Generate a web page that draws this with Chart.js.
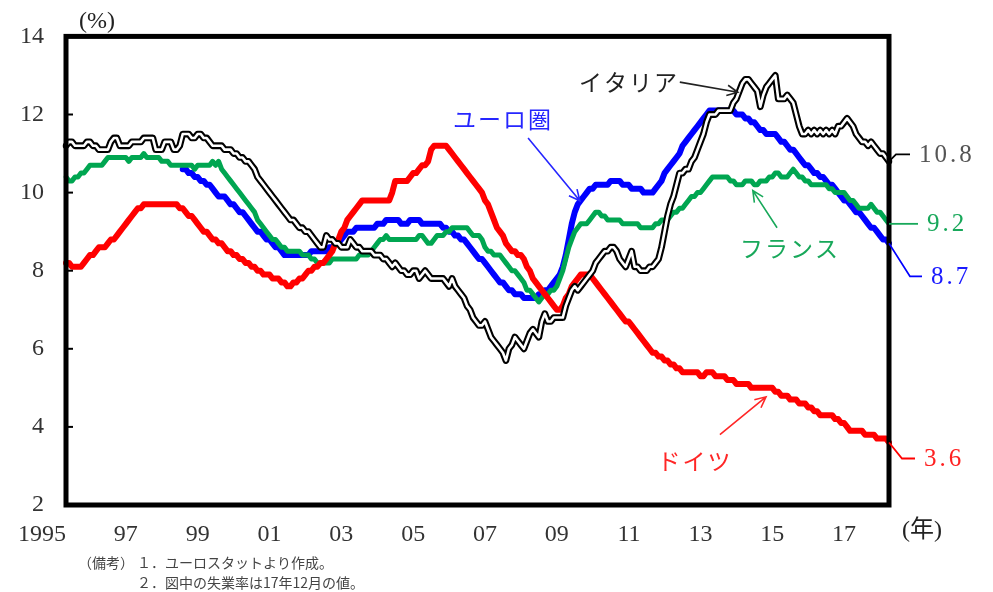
<!DOCTYPE html>
<html lang="ja">
<head>
<meta charset="utf-8">
<title>ユーロ圏の失業率</title>
<script src="https://cdn.jsdelivr.net/npm/chart.js@4.4.1/dist/chart.umd.min.js"></script>
<style>
  html, body { margin: 0; padding: 0; background: #fff; }
  #wrap { width: 993px; height: 592px; }
</style>
</head>
<body>
<div id="wrap"><canvas id="myLineChart" width="993" height="592"></canvas></div>
<script>
// monthly, Jan 1995 - Dec 2017 (%)
const yearTicks = ['1995', '97', '99', '01', '03', '05', '07', '09', '11', '13', '15', '17'];

const germany = [
  8.2, 8.2, 8.1, 8.1, 8.1, 8.1, 8.2, 8.3, 8.4, 8.4, 8.5, 8.6,
  8.6, 8.6, 8.7, 8.8, 8.8, 8.9, 9.0, 9.1, 9.2, 9.3, 9.4, 9.5,
  9.6, 9.6, 9.7, 9.7, 9.7, 9.7, 9.7, 9.7, 9.7, 9.7, 9.7, 9.7,
  9.7, 9.7, 9.6, 9.6, 9.5, 9.4, 9.4, 9.3, 9.2, 9.1, 9.0, 9.0,
  8.9, 8.8, 8.8, 8.7, 8.7, 8.6, 8.5, 8.5, 8.4, 8.4, 8.3, 8.3,
  8.2, 8.2, 8.1, 8.1, 8.0, 8.0, 7.9, 7.9, 7.9, 7.8, 7.8, 7.8,
  7.7, 7.7, 7.6, 7.6, 7.7, 7.7, 7.8, 7.8, 7.9, 8.0, 8.0, 8.1,
  8.1, 8.2, 8.2, 8.3, 8.4, 8.5, 8.7, 8.8, 9.0, 9.1, 9.3, 9.4,
  9.5, 9.6, 9.7, 9.8, 9.8, 9.8, 9.8, 9.8, 9.8, 9.8, 9.8, 9.8,
  9.8, 10.0, 10.3, 10.3, 10.3, 10.3, 10.3, 10.4, 10.5, 10.5, 10.6, 10.7,
  10.7, 10.8, 11.1, 11.2, 11.2, 11.2, 11.2, 11.2, 11.1, 11.0, 10.9, 10.8,
  10.7, 10.6, 10.5, 10.4, 10.3, 10.2, 10.1, 10.0, 9.8, 9.7, 9.5, 9.3,
  9.1, 9.0, 8.9, 8.7, 8.6, 8.5, 8.5, 8.4, 8.4, 8.3, 8.1, 8.0,
  7.8, 7.7, 7.6, 7.5, 7.4, 7.3, 7.2, 7.1, 7.0, 7.0, 7.1, 7.3,
  7.4, 7.6, 7.7, 7.8, 7.9, 7.9, 7.9, 7.9, 7.8, 7.7, 7.6, 7.5,
  7.4, 7.3, 7.2, 7.1, 7.0, 6.9, 6.8, 6.7, 6.7, 6.6, 6.5, 6.4,
  6.3, 6.2, 6.1, 6.0, 5.9, 5.9, 5.8, 5.8, 5.7, 5.7, 5.6, 5.6,
  5.5, 5.5, 5.4, 5.4, 5.4, 5.4, 5.4, 5.4, 5.3, 5.3, 5.4, 5.4,
  5.4, 5.3, 5.3, 5.3, 5.3, 5.2, 5.2, 5.2, 5.1, 5.1, 5.1, 5.1,
  5.1, 5.0, 5.0, 5.0, 5.0, 5.0, 5.0, 5.0, 5.0, 4.9, 4.9, 4.8,
  4.8, 4.8, 4.7, 4.7, 4.7, 4.6, 4.6, 4.6, 4.5, 4.5, 4.4, 4.4,
  4.3, 4.3, 4.3, 4.3, 4.3, 4.2, 4.2, 4.1, 4.1, 4.0, 3.9, 3.9,
  3.9, 3.9, 3.9, 3.8, 3.8, 3.8, 3.8, 3.7, 3.7, 3.7, 3.7, 3.6
];

const euroArea = [
  null, null, null, null, null, null, null, null, null, null, null, null,
  null, null, null, null, null, null, null, null, null, null, null, null,
  null, null, null, null, null, null, null, null, null, null, null, null,
  null, null, null, 10.6, 10.6, 10.5, 10.5, 10.4, 10.4, 10.3, 10.3, 10.2,
  10.2, 10.1, 10.0, 9.9, 9.9, 9.9, 9.8, 9.7, 9.7, 9.6, 9.5, 9.5,
  9.4, 9.3, 9.2, 9.1, 9.0, 9.0, 8.9, 8.8, 8.8, 8.7, 8.6, 8.6,
  8.5, 8.4, 8.4, 8.4, 8.4, 8.4, 8.4, 8.4, 8.4, 8.4, 8.5, 8.5,
  8.5, 8.5, 8.5, 8.5, 8.6, 8.6, 8.7, 8.7, 8.8, 8.9, 9.0, 9.0,
  9.0, 9.1, 9.1, 9.1, 9.1, 9.1, 9.1, 9.1, 9.2, 9.2, 9.2, 9.3,
  9.3, 9.3, 9.3, 9.3, 9.2, 9.2, 9.2, 9.3, 9.3, 9.3, 9.3, 9.2,
  9.2, 9.2, 9.2, 9.2, 9.2, 9.2, 9.1, 9.1, 9.0, 9.0, 8.9, 8.9,
  8.8, 8.8, 8.7, 8.6, 8.5, 8.4, 8.3, 8.3, 8.2, 8.1, 8.0, 7.9,
  7.8, 7.7, 7.7, 7.6, 7.5, 7.5, 7.4, 7.4, 7.4, 7.3, 7.3, 7.3,
  7.3, 7.3, 7.4, 7.4, 7.5, 7.5, 7.6, 7.7, 7.8, 7.9, 8.1, 8.4,
  8.8, 9.2, 9.5, 9.7, 9.8, 9.9, 10.0, 10.1, 10.1, 10.2, 10.2, 10.2,
  10.2, 10.2, 10.3, 10.3, 10.3, 10.3, 10.2, 10.2, 10.2, 10.1, 10.1, 10.1,
  10.1, 10.0, 10.0, 10.0, 10.0, 10.1, 10.2, 10.3, 10.5, 10.6, 10.7, 10.8,
  10.9, 11.0, 11.2, 11.3, 11.4, 11.5, 11.6, 11.7, 11.8, 11.9, 12.0, 12.1,
  12.1, 12.1, 12.1, 12.1, 12.1, 12.1, 12.1, 12.1, 12.0, 12.0, 12.0, 11.9,
  11.9, 11.8, 11.8, 11.7, 11.6, 11.6, 11.5, 11.5, 11.5, 11.5, 11.4, 11.3,
  11.3, 11.2, 11.1, 11.1, 11.0, 10.9, 10.8, 10.7, 10.7, 10.6, 10.5, 10.5,
  10.4, 10.4, 10.3, 10.2, 10.2, 10.1, 10.0, 9.9, 9.8, 9.8, 9.7, 9.6,
  9.5, 9.5, 9.4, 9.3, 9.2, 9.1, 9.1, 9.0, 8.9, 8.8, 8.8, 8.7
];

const france = [
  10.4, 10.3, 10.3, 10.4, 10.4, 10.5, 10.5, 10.6, 10.7, 10.7, 10.7, 10.7,
  10.7, 10.8, 10.9, 10.9, 10.9, 10.9, 10.9, 10.9, 10.9, 10.8, 10.9, 10.9,
  10.9, 10.9, 11.0, 10.9, 10.9, 10.9, 10.9, 10.9, 10.8, 10.8, 10.8, 10.7,
  10.7, 10.7, 10.7, 10.7, 10.7, 10.7, 10.7, 10.6, 10.7, 10.7, 10.7, 10.7,
  10.7, 10.8, 10.7, 10.8, 10.6, 10.5, 10.4, 10.3, 10.2, 10.1, 10.0, 9.9,
  9.8, 9.7, 9.6, 9.5, 9.3, 9.2, 9.1, 9.0, 8.9, 8.8, 8.8, 8.7,
  8.6, 8.6, 8.5, 8.5, 8.5, 8.5, 8.5, 8.4, 8.4, 8.4, 8.3, 8.3,
  8.2, 8.2, 8.2, 8.2, 8.2, 8.3, 8.3, 8.3, 8.3, 8.3, 8.3, 8.3,
  8.3, 8.3, 8.4, 8.4, 8.4, 8.4, 8.5, 8.6, 8.7, 8.8, 8.8, 8.9,
  8.8, 8.8, 8.8, 8.8, 8.8, 8.8, 8.8, 8.8, 8.8, 8.8, 8.9, 8.9,
  8.8, 8.7, 8.7, 8.8, 8.9, 8.9, 8.9, 9.0, 9.0, 9.1, 9.1, 9.1,
  9.1, 9.1, 9.1, 9.0, 8.9, 8.9, 8.9, 8.8, 8.6, 8.5, 8.5, 8.4,
  8.4, 8.4, 8.3, 8.2, 8.1, 8.0, 8.0, 7.9, 7.8, 7.7, 7.5, 7.5,
  7.4, 7.3, 7.2, 7.3, 7.4, 7.4, 7.5, 7.5, 7.6, 7.8, 8.0, 8.3,
  8.6, 8.8, 9.0, 9.1, 9.2, 9.2, 9.2, 9.3, 9.4, 9.5, 9.5, 9.4,
  9.4, 9.3, 9.3, 9.3, 9.3, 9.3, 9.2, 9.2, 9.2, 9.2, 9.2, 9.2,
  9.1, 9.1, 9.1, 9.1, 9.1, 9.2, 9.2, 9.3, 9.3, 9.3, 9.4, 9.5,
  9.5, 9.6, 9.6, 9.7, 9.8, 9.9, 9.9, 10.0, 10.0, 10.1, 10.2, 10.3,
  10.4, 10.4, 10.4, 10.4, 10.4, 10.4, 10.3, 10.3, 10.2, 10.2, 10.2, 10.3,
  10.3, 10.3, 10.2, 10.2, 10.3, 10.3, 10.3, 10.4, 10.4, 10.5, 10.5, 10.4,
  10.4, 10.4, 10.5, 10.6, 10.5, 10.4, 10.4, 10.3, 10.3, 10.2, 10.2, 10.2,
  10.2, 10.2, 10.2, 10.1, 10.1, 10.0, 10.0, 10.0, 10.0, 9.9, 9.8, 9.8,
  9.7, 9.6, 9.6, 9.6, 9.6, 9.7, 9.6, 9.5, 9.5, 9.4, 9.3, 9.2
];

const italy = [
  11.2, 11.3, 11.3, 11.2, 11.2, 11.2, 11.2, 11.3, 11.3, 11.2, 11.2, 11.1,
  11.1, 11.1, 11.1, 11.3, 11.4, 11.4, 11.2, 11.2, 11.2, 11.2, 11.3, 11.3,
  11.3, 11.3, 11.4, 11.4, 11.4, 11.4, 11.1, 11.1, 11.1, 11.3, 11.3, 11.3,
  11.1, 11.1, 11.2, 11.5, 11.5, 11.5, 11.4, 11.4, 11.5, 11.5, 11.4, 11.4,
  11.3, 11.2, 11.2, 11.2, 11.2, 11.1, 11.1, 11.1, 11.0, 11.0, 10.9, 10.9,
  10.8, 10.8, 10.7, 10.6, 10.4, 10.3, 10.2, 10.1, 10.0, 9.9, 9.8, 9.7,
  9.6, 9.5, 9.4, 9.3, 9.3, 9.2, 9.1, 9.1, 9.0, 9.0, 8.9, 8.8,
  8.7, 8.6, 8.6, 8.9, 8.8, 8.8, 8.7, 8.7, 8.6, 8.6, 8.6, 8.8,
  8.7, 8.6, 8.6, 8.5, 8.5, 8.5, 8.5, 8.4, 8.4, 8.4, 8.3, 8.3,
  8.2, 8.1, 8.2, 8.1, 8.0, 8.0, 7.9, 7.9, 8.0, 8.0, 7.8, 7.9,
  8.0, 7.9, 7.8, 7.8, 7.8, 7.8, 7.8, 7.7, 7.6, 7.8, 7.6, 7.5,
  7.4, 7.3, 7.1, 7.0, 6.8, 6.7, 6.6, 6.6, 6.7, 6.5, 6.3, 6.2,
  6.1, 6.0, 5.9, 5.7, 6.0, 6.1, 6.3, 6.2, 6.1, 6.0, 6.2, 6.4,
  6.5, 6.4, 6.3, 6.7, 6.9, 6.7, 6.7, 6.8, 6.8, 6.8, 6.8, 7.1,
  7.3, 7.5, 7.6, 7.5, 7.6, 7.7, 7.8, 7.9, 8.0, 8.2, 8.3, 8.4,
  8.5, 8.5, 8.6, 8.6, 8.5, 8.3, 8.2, 8.1, 8.3, 8.5, 8.1, 8.1,
  8.0, 8.0, 8.0, 8.1, 8.1, 8.2, 8.3, 8.6, 9.0, 9.4, 9.7, 9.9,
  10.2, 10.5, 10.5, 10.6, 10.6, 10.8, 10.9, 11.1, 11.3, 11.5, 11.8, 12.0,
  12.0, 12.0, 12.1, 12.1, 12.1, 12.1, 12.1, 12.3, 12.4, 12.6, 12.8, 12.9,
  12.9, 12.8, 12.7, 12.6, 12.2, 12.5, 12.7, 12.8, 12.9, 13.0, 12.4, 12.4,
  12.4, 12.5, 12.4, 12.3, 12.0, 11.7, 11.5, 11.5, 11.6, 11.5, 11.6, 11.5,
  11.6, 11.5, 11.6, 11.5, 11.6, 11.5, 11.7, 11.7, 11.8, 11.9, 11.8, 11.7,
  11.5, 11.4, 11.3, 11.3, 11.2, 11.3, 11.2, 11.1, 11.0, 11.0, 10.9, 10.8
];

const months = [];
for (let y = 1995; y <= 2017; y++) {
  for (let m = 1; m <= 12; m++) months.push(y + '/' + m);
}

const serif = "'Liberation Serif', 'DejaVu Serif', serif";
const jp = "'Noto Sans CJK JP', sans-serif";

function arrow(c, x1, y1, x2, y2, color) {
  const a = Math.atan2(y2 - y1, x2 - x1), len = 12, sp = 0.45;
  c.save();
  c.strokeStyle = color;
  c.lineWidth = 1.6;
  c.beginPath();
  c.moveTo(x1, y1);
  c.lineTo(x2, y2);
  c.moveTo(x2 - len * Math.cos(a - sp), y2 - len * Math.sin(a - sp));
  c.lineTo(x2, y2);
  c.lineTo(x2 - len * Math.cos(a + sp), y2 - len * Math.sin(a + sp));
  c.stroke();
  c.restore();
}

// annotations, in (month index, value)
const labels = [
  { text: 'イタリア', color: '#222', pos: [188.1, 12.83], tail: [205.1, 12.83], head: [224.5, 12.57] },
  { text: 'ユーロ圏', color: '#2626ff', pos: [146.0, 11.88], tail: [154.4, 11.40], head: [171.7, 9.79] },
  { text: 'フランス', color: '#18a85a', pos: [241.9, 8.57], tail: [237.6, 9.10], head: [229.5, 10.05] },
  { text: 'ドイツ', color: '#ff2626', pos: [210.2, 3.11], tail: [218.5, 3.80], head: [233.9, 4.77] }
];

const framePlugin = {
  id: 'frame',
  afterDatasetsDraw(chart) {
    const c = chart.ctx, a = chart.chartArea, ys = chart.scales.y;
    c.save();
    c.strokeStyle = '#000';
    c.lineWidth = 2;
    ys.ticks.forEach(t => {
      const y = ys.getPixelForValue(t.value);
      c.beginPath();
      c.moveTo(a.left, y);
      c.lineTo(a.left + 7, y);
      c.stroke();
    });
    c.lineWidth = 5;
    c.strokeRect(a.left, a.top, a.right - a.left, a.bottom - a.top);
    c.restore();
  }
};

const notesPlugin = {
  id: 'notes',
  afterDraw(chart) {
    const c = chart.ctx, xs = chart.scales.x, ys = chart.scales.y, a = chart.chartArea;
    const px = p => [xs.getPixelForValue(p[0]), ys.getPixelForValue(p[1])];
    c.save();
    c.textBaseline = 'middle';

    labels.forEach(l => {
      const p = px(l.pos), t = px(l.tail), h = px(l.head);
      c.font = '23px ' + jp;
      c.fillStyle = l.color;
      c.textAlign = 'center';
      c.letterSpacing = '2px';
      c.fillText(l.text, p[0], p[1]);
      c.letterSpacing = '0px';
      arrow(c, t[0], t[1], h[0], h[1], l.color);
    });

    // end values with leader lines
    const last = months.length - 1;
    const ends = [
      { v: italy[last], color: '#555', line: '#000', dy: -7, dx: 7, len: 14, text: '10.8' },
      { v: france[last], color: '#18a85a', line: '#18a85a', dy: 0, dx: 0, len: 29, text: '9.2' },
      { v: euroArea[last], color: '#1a1aff', line: '#0000ff', dy: 33, dx: 21, len: 12, text: '8.7' },
      { v: germany[last], color: '#ff2020', line: '#ff0000', dy: 16, dx: 13, len: 13, text: '3.6' }
    ];
    c.font = '25px ' + serif;
    c.textAlign = 'left';
    ends.forEach(e => {
      const x0 = xs.getPixelForValue(last), y0 = ys.getPixelForValue(e.v);
      const x1 = x0 + e.dx, y1 = y0 + e.dy, x2 = x1 + e.len;
      c.strokeStyle = e.line;
      c.lineWidth = 1.8;
      c.beginPath();
      c.moveTo(x0, y0);
      c.lineTo(x1, y1);
      c.lineTo(x2, y1);
      c.stroke();
      c.fillStyle = e.color;
      c.letterSpacing = '3px';
      c.fillText(e.text, x2 + 9, y1 + 1);
      c.letterSpacing = '0px';
    });

    // unit labels
    c.fillStyle = '#222';
    c.font = '24px ' + serif + ', ' + jp;
    c.textAlign = 'center';
    c.fillText('(%)', a.left + 31, a.top - 15);
    c.fillText('(年)', a.right + 33, a.bottom + 26);

    // notes
    c.fillStyle = '#444';
    c.font = '14px ' + jp;
    c.textAlign = 'left';
    c.fillText('（備考）', 78, 563);
    c.fillText('１．ユーロスタットより作成。', 137, 563);
    c.fillText('２．図中の失業率は17年12月の値。', 137, 583);
    c.restore();
  }
};

const ctx = document.getElementById('myLineChart').getContext('2d');
const myLineChart = new Chart(ctx, {
  type: 'line',
  data: {
    labels: months,
    datasets: [
      { label: 'イタリア', data: italy, borderColor: '#ffffff', borderWidth: 2.6, order: 0 },
      { label: 'イタリア', data: italy, borderColor: '#000000', borderWidth: 6.8, order: 1 },
      { label: 'ドイツ', data: germany, borderColor: '#ff0000', borderWidth: 6, order: 2 },
      { label: 'フランス', data: france, borderColor: '#00a651', borderWidth: 5, order: 3 },
      { label: 'ユーロ圏', data: euroArea, borderColor: '#0000ff', borderWidth: 6, order: 4 }
    ]
  },
  options: {
    responsive: false,
    animation: false,
    devicePixelRatio: 1,
    layout: { padding: { top: 35, right: 104, left: 0, bottom: 0 } },
    elements: {
      point: { radius: 0 },
      line: { tension: 0, borderJoinStyle: 'round', borderCapStyle: 'round' }
    },
    plugins: {
      legend: { display: false },
      tooltip: { enabled: false }
    },
    scales: {
      x: {
        grid: { display: false, drawTicks: false },
        border: { display: false },
        ticks: {
          autoSkip: false,
          maxRotation: 0,
          align: 'end',
          padding: 15,
          color: '#333',
          font: { family: serif, size: 24 },
          callback: (v, i) => (i % 24 === 0 ? yearTicks[i / 24] : '')
        },
        afterFit: s => { s.height = 87; }
      },
      y: {
        min: 2,
        max: 14,
        grid: { display: false, drawTicks: false },
        border: { display: false },
        ticks: {
          stepSize: 2,
          padding: 22,
          color: '#333',
          font: { family: serif, size: 24 }
        },
        afterFit: s => { s.width = 66; }
      }
    }
  },
  plugins: [framePlugin, notesPlugin]
});
</script>
</body>
</html>
